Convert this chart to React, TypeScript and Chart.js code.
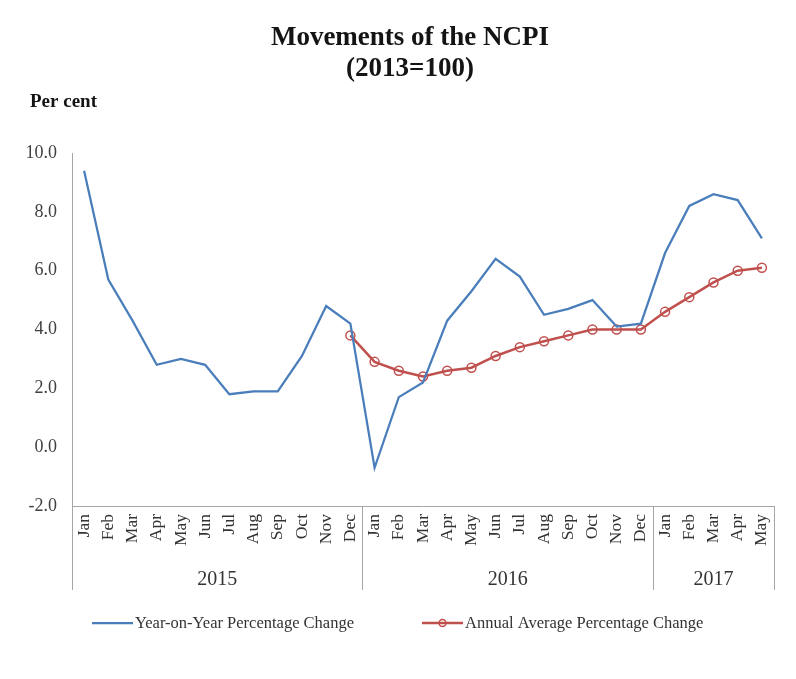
import React, { useEffect, useRef } from "react";
import { Chart, registerables } from "chart.js";

Chart.register(...registerables);

const months = [
  "Jan", "Feb", "Mar", "Apr", "May", "Jun", "Jul", "Aug", "Sep", "Oct", "Nov", "Dec",
  "Jan", "Feb", "Mar", "Apr", "May", "Jun", "Jul", "Aug", "Sep", "Oct", "Nov", "Dec",
  "Jan", "Feb", "Mar", "Apr", "May",
];
const yearLabels = ["2015", "2016", "2017"];
const monthsPerYear = [12, 12, 5];

const yoyChange = [
  9.4, 5.7, 4.3, 2.8, 3.0, 2.8, 1.8, 1.9, 1.9, 3.1, 4.8, 4.2,
  -0.7, 1.7, 2.2, 4.3, 5.3, 6.4, 5.8, 4.5, 4.7, 5.0, 4.1, 4.2,
  6.6, 8.2, 8.6, 8.4, 7.1,
];
const annualAvgChange = [
  null, null, null, null, null, null, null, null, null, null, null, 3.8,
  2.9, 2.6, 2.4, 2.6, 2.7, 3.1, 3.4, 3.6, 3.8, 4.0, 4.0, 4.0,
  4.6, 5.1, 5.6, 6.0, 6.1,
];

const seriesNames = ["Year-on-Year Percentage Change", "Annual Average Percentage Change"];
const titleLines = ["Movements of the NCPI", "(2013=100)"];
const unitLabel = "Per cent";
const yMin = -2;
const yMax = 10;
const yStep = 2;

const BLUE = "#4a7ebb";
const RED = "#c0504d";
const SERIF = '"Liberation Serif", "Times New Roman", serif';

const decorPlugin = {
  id: "decor",
  afterDraw(chart: any) {
    const ctx = chart.ctx as CanvasRenderingContext2D;
    const xs = chart.scales.x;
    ctx.save();

    // Title
    ctx.fillStyle = "#141414";
    ctx.textAlign = "center";
    ctx.textBaseline = "middle";
    ctx.font = `bold 27px ${SERIF}`;
    ctx.fillText(titleLines[0], 402, 33);
    ctx.fillText(titleLines[1], 402, 64);

    // Unit label
    ctx.textAlign = "left";
    ctx.font = `bold 19px ${SERIF}`;
    ctx.fillText(unitLabel, 22, 97);

    // Year group dividers and labels
    const n = months.length;
    const edge = (i: number) =>
      i <= 0 ? xs.left : i >= n ? xs.right : (xs.getPixelForValue(i - 1) + xs.getPixelForValue(i)) / 2;
    const yTop = xs.top;
    const yBottom = 585;
    ctx.strokeStyle = "#a6a6a6";
    ctx.lineWidth = 1;
    let start = 0;
    const bounds: number[] = [0];
    monthsPerYear.forEach((c) => {
      start += c;
      bounds.push(start);
    });
    bounds.forEach((b) => {
      const x = Math.round(edge(b)) + 0.5;
      ctx.beginPath();
      ctx.moveTo(x, yTop);
      ctx.lineTo(x, yBottom);
      ctx.stroke();
    });
    ctx.fillStyle = "#333";
    ctx.textAlign = "center";
    ctx.font = `20px ${SERIF}`;
    yearLabels.forEach((lbl, k) => {
      const x0 = edge(bounds[k]);
      const x1 = edge(bounds[k + 1]);
      ctx.fillText(lbl, (x0 + x1) / 2, 575);
    });

    // Legend
    const legendX = [84, 414];
    const legendY = 618;
    ctx.font = `16.5px ${SERIF}`;
    ctx.textAlign = "left";
    chart.data.datasets.forEach((ds: any, i: number) => {
      const x = legendX[i];
      ctx.strokeStyle = ds.borderColor;
      ctx.lineWidth = ds.borderWidth;
      ctx.beginPath();
      ctx.moveTo(x, legendY);
      ctx.lineTo(x + 41, legendY);
      ctx.stroke();
      if (ds.pointRadius > 0) {
        ctx.lineWidth = ds.pointBorderWidth;
        ctx.beginPath();
        ctx.arc(x + 20.5, legendY, 3.5, 0, Math.PI * 2);
        ctx.stroke();
      }
      ctx.fillStyle = "#333";
      ctx.fillText(ds.label, x + 43, legendY + 1);
    });

    ctx.restore();
  },
};

export default function App() {
  const ref = useRef<HTMLCanvasElement | null>(null);

  useEffect(() => {
    if (!ref.current) return;
    const chart = new Chart(ref.current, {
      type: "line",
      data: {
        labels: months,
        datasets: [
          {
            label: seriesNames[0],
            data: yoyChange,
            borderColor: BLUE,
            backgroundColor: BLUE,
            borderWidth: 2.25,
            pointRadius: 0,
            pointHoverRadius: 0,
            tension: 0,
          },
          {
            label: seriesNames[1],
            data: annualAvgChange as any,
            borderColor: RED,
            backgroundColor: RED,
            borderWidth: 2.5,
            pointRadius: 4.5,
            pointBorderWidth: 1.5,
            pointBackgroundColor: "rgba(255,255,255,0)",
            pointBorderColor: RED,
            pointStyle: "circle",
            tension: 0,
          },
        ],
      },
      options: {
        animation: false,
        responsive: false,
        maintainAspectRatio: false,
        layout: { padding: { top: 148, right: 22, bottom: 0, left: 0 } },
        plugins: {
          legend: { display: false },
          title: { display: false },
          tooltip: { enabled: false },
        },
        scales: {
          x: {
            type: "category",
            offset: true,
            grid: { display: false, drawTicks: false, offset: true },
            border: { display: true, color: "#a6a6a6", width: 1 },
            ticks: {
              autoSkip: false,
              maxRotation: 90,
              minRotation: 90,
              padding: 8,
              color: "#333",
              font: { family: SERIF, size: 17.5 },
            },
            afterFit: (s: any) => {
              s.height = 173;
            },
          },
          y: {
            min: yMin,
            max: yMax,
            grid: { display: false, drawTicks: false },
            border: { display: true, color: "#a6a6a6", width: 1 },
            ticks: {
              stepSize: yStep,
              padding: 15,
              color: "#404040",
              font: { family: SERIF, size: 18 },
              callback: (v: any) => Number(v).toFixed(1),
            },
            afterFit: (s: any) => {
              s.width = 64;
            },
          },
        },
      },
      plugins: [decorPlugin],
    });
    return () => chart.destroy();
  }, []);

  return (
    <div
      style={{
        position: "relative",
        marginTop: -4,
        marginLeft: -2,
        borderLeft: "2px solid #9a9a9a",
        borderTop: "1px solid #9a9a9a",
        width: 788,
        height: 674,
        background: "#fff",
      }}
    >
      <canvas ref={ref} width={788} height={674} style={{ display: "block" }} />
    </div>
  );
}
